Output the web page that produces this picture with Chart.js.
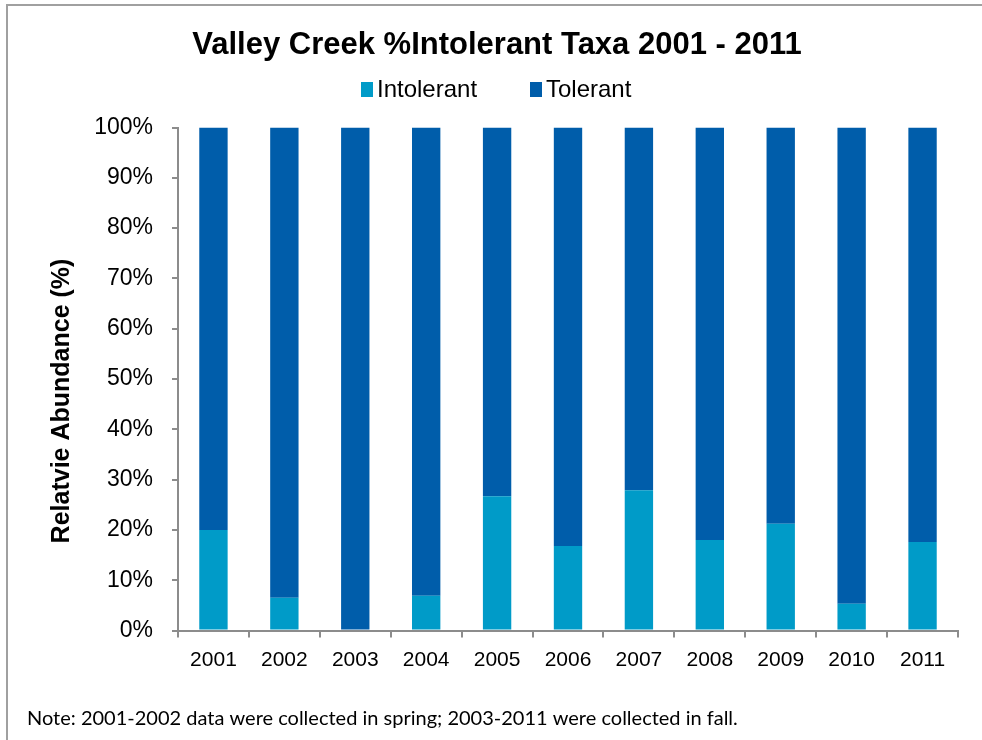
<!DOCTYPE html>
<html>
<head>
<meta charset="utf-8">
<title>Valley Creek %Intolerant Taxa</title>
<script src="https://cdn.jsdelivr.net/npm/chart.js@4.4.0/dist/chart.umd.min.js"></script>
<style>
  html, body { margin: 0; padding: 0; background: #fff; }
  #wrap { width: 982px; height: 740px; position: relative; }
</style>
</head>
<body>
<div id="wrap"><canvas id="taxaChart" width="982" height="740"></canvas></div>
<script>
// Données : % de taxons intolérants / tolérants par année
const years = ['2001', '2002', '2003', '2004', '2005', '2006', '2007', '2008', '2009', '2010', '2011'];
const intolerantPct = [20.0, 6.5, 0, 6.9, 26.7, 16.8, 27.9, 18.0, 21.2, 5.3, 17.6];
const tolerantPct = [80.0, 93.5, 100, 93.1, 73.3, 83.2, 72.1, 82.0, 78.8, 94.7, 82.4];

const chartTitle = 'Valley Creek %Intolerant Taxa 2001 - 2011';
const yAxisTitle = 'Relatvie Abundance (%)';
const noteText = 'Note: 2001-2002 data were collected in spring; 2003-2011 were collected in fall.';

const AXIS_GREY = '#8c8c8c';
const FONT = '"Liberation Sans", Arial, sans-serif';

// Cadre, titre, légende, titre de l'axe Y et note de bas de page
const decorations = {
    id: 'decorations',
    afterDraw(chart) {
        const ctx = chart.ctx;
        ctx.save();

        // cadre gris (haut + gauche)
        ctx.strokeStyle = '#a0a0a0';
        ctx.lineWidth = 2;
        ctx.beginPath();
        ctx.moveTo(7, 740);
        ctx.lineTo(7, 5);
        ctx.lineTo(982, 5);
        ctx.stroke();

        // titre
        ctx.fillStyle = '#000';
        ctx.font = 'bold 31px ' + FONT;
        ctx.textAlign = 'center';
        ctx.textBaseline = 'middle';
        ctx.fillText(chartTitle, 497, 45);

        // légende
        ctx.font = '24px ' + FONT;
        ctx.textAlign = 'left';
        const legendX = [361, 530];
        chart.data.datasets.forEach((ds, i) => {
            ctx.fillStyle = ds.backgroundColor;
            ctx.fillRect(legendX[i], 82, 12, 15);
            ctx.fillStyle = '#000';
            ctx.fillText(ds.label, legendX[i] + 16, 90);
        });

        // titre axe Y
        ctx.save();
        ctx.translate(62, 401);
        ctx.rotate(-Math.PI / 2);
        ctx.font = 'bold 25px ' + FONT;
        ctx.textAlign = 'center';
        ctx.fillText(yAxisTitle, 0, 0);
        ctx.restore();

        // note
        ctx.font = '20px Lato, "Open Sans", sans-serif';
        ctx.textAlign = 'left';
        ctx.textBaseline = 'alphabetic';
        ctx.fillText(noteText, 27, 725, 713);

        ctx.restore();
    }
};

const ctx = document.getElementById('taxaChart').getContext('2d');
new Chart(ctx, {
    type: 'bar',
    data: {
        labels: years,
        datasets: [
            {
                label: 'Intolerant',
                data: intolerantPct,
                backgroundColor: '#009BC8',
                barPercentage: 0.4,
                categoryPercentage: 1.0
            },
            {
                label: 'Tolerant',
                data: tolerantPct,
                backgroundColor: '#005DAA',
                barPercentage: 0.4,
                categoryPercentage: 1.0
            }
        ]
    },
    options: {
        responsive: false,
        animation: false,
        devicePixelRatio: 1,
        layout: { padding: { left: 20, right: 24, top: 127.5, bottom: 59.5 } },
        plugins: {
            legend: { display: false },
            title: { display: false },
            tooltip: { enabled: false }
        },
        scales: {
            x: {
                stacked: true,
                border: { color: AXIS_GREY, width: 2 },
                grid: {
                    offset: true,
                    drawOnChartArea: false,
                    color: AXIS_GREY,
                    lineWidth: 2,
                    tickLength: 7
                },
                ticks: {
                    color: '#000',
                    padding: 10,
                    font: { family: FONT, size: 21 }
                },
                afterFit: (scale) => { scale.height = 50; }
            },
            y: {
                stacked: true,
                min: 0,
                max: 100,
                border: { color: AXIS_GREY, width: 2 },
                grid: {
                    drawOnChartArea: false,
                    color: AXIS_GREY,
                    lineWidth: 2,
                    tickLength: 6
                },
                ticks: {
                    stepSize: 10,
                    color: '#000',
                    padding: 19,
                    font: { family: FONT, size: 23 },
                    callback: (v) => v + '%'
                },
                afterFit: (scale) => { scale.width = 158; }
            }
        }
    },
    plugins: [decorations]
});
</script>
</body>
</html>
